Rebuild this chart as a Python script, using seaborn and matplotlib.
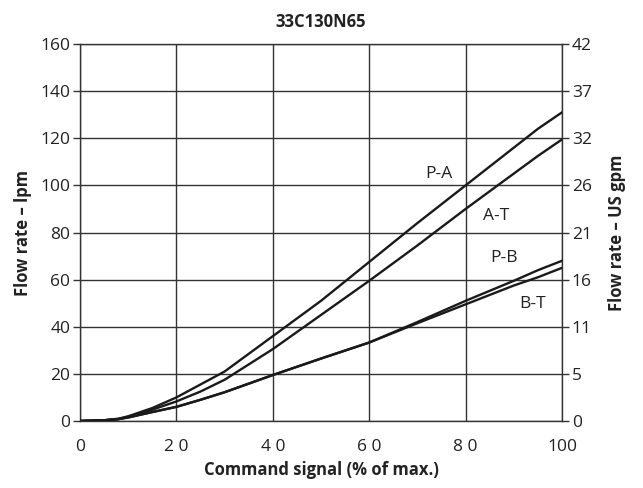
import numpy as np
import pandas as pd
import seaborn as sns
import matplotlib
matplotlib.use("Agg")
import matplotlib.pyplot as plt

# ---- data ----
command = [0, 5, 8, 10, 15, 20, 25, 30, 40, 50, 60, 70, 80, 90, 95, 100]
flow_pa = [0, 0.3, 1.0, 2.0, 5.5, 10.0, 15.5, 21.0, 36.0, 51.0, 67.5, 84.0, 100.0, 116.0, 124.0, 131.0]
flow_at = [0, 0.3, 0.8, 1.8, 4.8, 8.3, 12.5, 17.5, 30.5, 45.0, 59.5, 74.5, 90.0, 105.0, 112.5, 119.5]
flow_pb = [0, 0.3, 0.8, 1.5, 3.8, 6.0, 9.0, 12.2, 19.5, 26.5, 33.3, 42.0, 51.0, 59.5, 64.0, 68.0]
flow_bt = [0, 0.3, 0.8, 1.5, 3.8, 6.0, 9.0, 12.2, 19.5, 26.5, 33.3, 41.5, 49.5, 57.5, 61.0, 65.0]
series_names = ["P-A", "A-T", "P-B", "B-T"]

lpm_ticks = [0, 20, 40, 60, 80, 100, 120, 140, 160]
gpm_labels = ["0", "5", "11", "16", "21", "26", "32", "37", "42"]
x_ticks = [0, 20, 40, 60, 80, 100]
x_tick_labels = ["0", "2 0", "4 0", "6 0", "8 0", "100"]

title = "33C130N65"
x_title = "Command signal (% of max.)"
y_title = "Flow rate \u2013 lpm"
y2_title = "Flow rate \u2013 US gpm"

df = pd.DataFrame({
    "command": command * 4,
    "flow": flow_pa + flow_at + flow_pb + flow_bt,
    "series": sum([[n] * len(command) for n in series_names], []),
})

# ---- style ----
sns.set_theme(style="white")
plt.rcParams["font.family"] = ["Open Sans", "DejaVu Sans"]

fig = plt.figure(figsize=(6.43, 4.88), dpi=100)
ax = fig.add_axes([0.1244, 0.1373, 0.7496, 0.7725])

sns.lineplot(data=df, x="command", y="flow", hue="series",
             palette=["#1a1a1a"] * 4, linewidth=1.7, legend=False,
             ax=ax, zorder=3)

ax.set_xlim(0, 100)
ax.set_ylim(0, 160)
ax.set_xticks(x_ticks)
ax.set_xticklabels(x_tick_labels)
ax.set_yticks(lpm_ticks)
ax.grid(True, color="#333333", linewidth=1.0)
ax.set_axisbelow(True)
for s in ax.spines.values():
    s.set_color("#333333")
    s.set_linewidth(1.0)

ax.tick_params(axis="y", direction="out", length=5, width=1.0, color="#333333",
               labelsize=12.5, pad=2, labelcolor="#222222", left=True)
ax.tick_params(axis="x", length=0, labelsize=12.5, pad=13, labelcolor="#222222")

ax2 = ax.twinx()
ax2.set_ylim(ax.get_ylim())
ax2.set_yticks(lpm_ticks)
ax2.set_yticklabels(gpm_labels)
ax2.tick_params(axis="y", direction="out", length=5, width=1.0, color="#333333",
                labelsize=12.5, pad=2, labelcolor="#222222", right=True)
ax2.grid(False)
for s in ax2.spines.values():
    s.set_visible(False)

ax.set_xlabel(x_title, fontsize=12, fontweight="bold", labelpad=4, color="#222222")
ax.set_ylabel(y_title, fontsize=12, fontweight="bold", labelpad=6, color="#222222")
ax2.set_ylabel(y2_title, fontsize=12, fontweight="bold", labelpad=12, color="#222222")
ax.set_title(title, fontsize=12, fontweight="bold", pad=12, color="#222222")

label_pos = {"P-A": (74.4, 105), "A-T": (86.3, 87), "P-B": (88, 69), "B-T": (94, 49.5)}
for name in series_names:
    lx, ly = label_pos[name]
    ax.text(lx, ly, name, fontsize=12.5, ha="center", va="center", color="#222222")

fig.savefig("out.png", dpi=100)
